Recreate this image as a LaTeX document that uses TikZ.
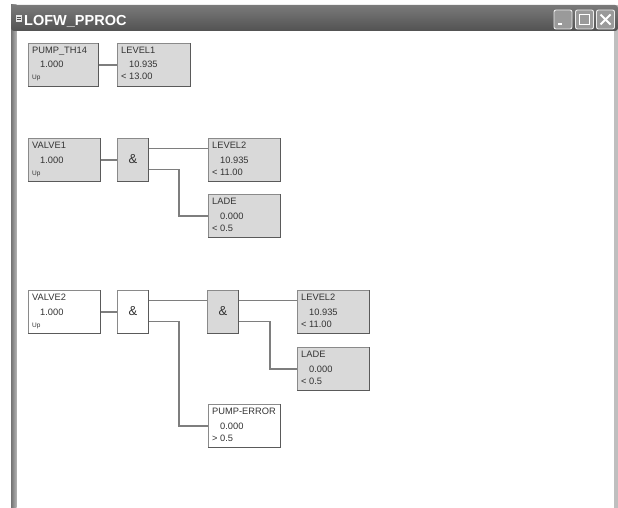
\documentclass[tikz,border=0pt]{standalone}
\usepackage{fontspec}
\setmainfont{Liberation Sans}
\usetikzlibrary{calc}
\definecolor{boxg}{HTML}{D9D9D9}
\definecolor{bordc}{HTML}{8A8A8A}
\definecolor{bordd}{HTML}{5A5A5A}
\definecolor{wirec}{HTML}{7E7E7E}
\definecolor{txtc}{HTML}{333333}
\definecolor{tbtop}{HTML}{7A7A7A}
\definecolor{tbmid}{HTML}{444444}
\definecolor{tbbot}{HTML}{525252}
\definecolor{btnfill}{HTML}{9A9A9A}
\tikzset{
  blk/.style={draw=bordc, line width=0.9pt, minimum width=72pt, minimum height=43pt, inner sep=0pt},
  gatebox/.style={draw=bordc, line width=0.9pt, minimum width=31pt, minimum height=43pt, inner sep=0pt,
    text=txtc, font=\fontsize{13}{13}\selectfont},
  nm/.style={anchor=base west, inner sep=0pt, text=txtc, font=\fontsize{9.3}{10}\selectfont},
  smalltxt/.style={anchor=base west, inner sep=0pt, text=txtc, font=\fontsize{6.5}{7}\selectfont},
  edgeline/.style={draw=bordd, line width=1pt},
  wire/.style={draw=wirec, line width=1.3pt},
  btn/.style={draw=gray!15, fill=btnfill, rounded corners=2pt, line width=0.9pt, minimum width=18pt, minimum height=19pt, inner sep=0pt}
}
\newcommand\dbox[8]{%
  \node[blk,#4,anchor=north west] (#1) at (#2,#3) {};
  \draw[edgeline] (#1.south west) -- (#1.south east) -- (#1.north east);
  \node[nm] (#1n) at ($(#1.north west)+(4,10.5)$) {#5};
  \node[nm] (#1v) at ($(#1.north west)+(12,25)$) {#6};
  \node[#8] (#1b) at ($(#1.north west)+(4,37)$) {#7};
}
\newcommand\gbox[4]{%
  \node[gatebox,#4,anchor=north west] (#1) at (#2,#3) {\raisebox{2pt}{\&}};
  \draw[edgeline] (#1.south west) -- (#1.south east) -- (#1.north east);
  \coordinate (#1a) at ($(#1.north east)+(0,10.5)$);
  \coordinate (#1b) at ($(#1.north east)+(0,31.5)$);
}
\begin{document}
\begin{tikzpicture}[x=1pt,y=-1pt]
\useasboundingbox (0,0) rectangle (618,508);
\fill[white] (0,0) rectangle (618,508);
% window frame
\shade[left color=gray!90!black, right color=gray!60] (11,5) rectangle (16.5,508);
\fill[gray!50] (613.5,5) rectangle (618,508);
% title bar
\shade[top color=tbtop, middle color=tbmid, bottom color=tbbot, rounded corners=3pt]
  (11,31) -- (11,5) -- (618,5) -- (618,31) -- cycle;
% title icon and text
\fill[gray!20] (15.5,15) rectangle (21.5,22.5);
\draw[gray!60!black, line width=0.5pt] (16.5,17.5) -- (20.5,17.5) (16.5,19.5) -- (20.5,19.5);
\node[anchor=base west, inner sep=0pt, text=white, font=\bfseries\fontsize{14.5}{14.5}\selectfont] (title) at (24,26) {LOFW\_PPROC};
% window buttons
\node[btn] (bmin) at (563,19.5) {};
\node[btn] (bmax) at (584.5,19.5) {};
\node[btn] (bclose) at (605.5,19.5) {};
\fill[white] ($(bmin.center)+(-5,4)$) rectangle ($(bmin.center)+(-1,6)$);
\draw[white, line width=1.2pt] ($(bmax.center)+(-5,-5)$) rectangle ($(bmax.center)+(5,5)$);
\draw[white, line width=2pt] ($(bclose.center)+(-5,-5)$) -- ($(bclose.center)+(5,5)$)
  ($(bclose.center)+(-5,5)$) -- ($(bclose.center)+(5,-5)$);
% group 1
\dbox{pump}{28}{43}{fill=boxg,minimum width=70pt}{PUMP\_TH14}{1.000}{Up}{smalltxt}
\dbox{levA}{117}{43}{fill=boxg,minimum width=73pt}{LEVEL1}{10.935}{< 13.00}{nm}
\draw[wire] (pump.east) -- (levA.west);
% group 2
\dbox{valA}{28}{138}{fill=boxg}{VALVE1}{1.000}{Up}{smalltxt}
\gbox{gA}{117}{138}{fill=boxg}
\dbox{levB}{208}{138}{fill=boxg}{LEVEL2}{10.935}{< 11.00}{nm}
\dbox{ladeA}{208}{194}{fill=boxg}{LADE}{0.000}{< 0.5}{nm}
\draw[wire] (valA.east) -- (gA.west);
\draw[wire] (gAa) -- (gAa -| levB.west);
\draw[wire] (gAb) -- ++(30,0) |- (ladeA.west);
% group 3
\dbox{valB}{28}{290}{fill=white}{VALVE2}{1.000}{Up}{smalltxt}
\gbox{gB}{117}{290}{fill=white}
\gbox{gC}{207}{290}{fill=boxg}
\dbox{levC}{297}{290}{fill=boxg}{LEVEL2}{10.935}{< 11.00}{nm}
\dbox{ladeB}{297}{347}{fill=boxg}{LADE}{0.000}{< 0.5}{nm}
\dbox{perr}{208}{404}{fill=white}{PUMP-ERROR}{0.000}{> 0.5}{nm}
\draw[wire] (valB.east) -- (gB.west);
\draw[wire] (gBa) -- (gBa -| gC.west);
\draw[wire] (gBb) -- ++(30,0) |- (perr.west);
\draw[wire] (gCa) -- (gCa -| levC.west);
\draw[wire] (gCb) -- ++(31,0) |- (ladeB.west);
\end{tikzpicture}
\end{document}
